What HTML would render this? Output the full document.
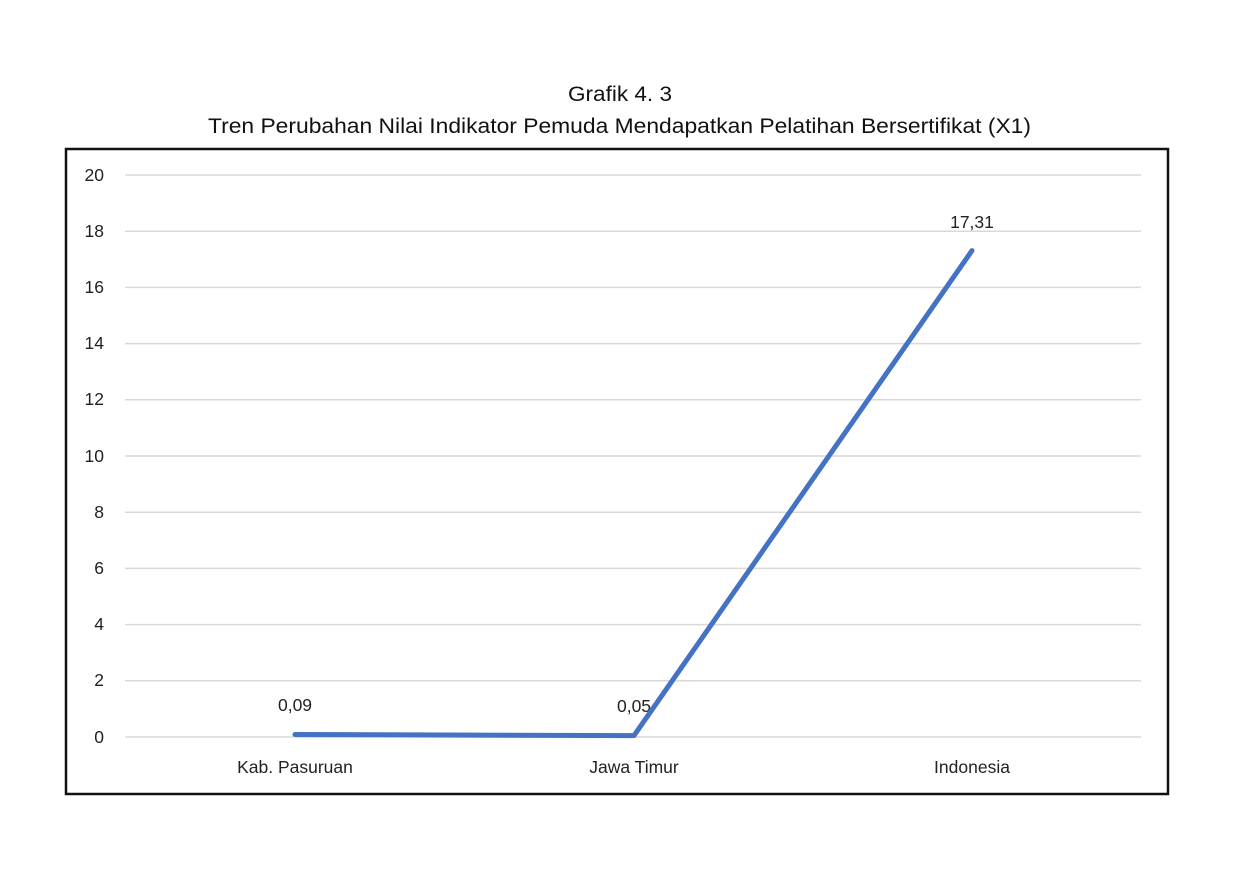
<!DOCTYPE html>
<html><head><meta charset="utf-8"><style>
html,body{margin:0;padding:0;background:#fff;}
svg{display:block;font-family:"Liberation Sans",sans-serif;}
</style></head><body>
<svg width="1240" height="880" viewBox="0 0 1240 880">
<rect width="1240" height="880" fill="#fff"/>
<text x="568" y="101" font-size="21" textLength="104" lengthAdjust="spacingAndGlyphs" fill="#111">Grafik 4. 3</text>
<text x="208" y="133" font-size="21" textLength="823" lengthAdjust="spacingAndGlyphs" fill="#111">Tren Perubahan Nilai Indikator Pemuda Mendapatkan Pelatihan Bersertifikat (X1)</text>
<rect x="66" y="149" width="1102" height="645" fill="none" stroke="#111" stroke-width="2.5"/>
<g stroke="#d9d9d9" stroke-width="1.5">
<line x1="125" x2="1141" y1="175" y2="175"/>
<line x1="125" x2="1141" y1="231.2" y2="231.2"/>
<line x1="125" x2="1141" y1="287.4" y2="287.4"/>
<line x1="125" x2="1141" y1="343.6" y2="343.6"/>
<line x1="125" x2="1141" y1="399.8" y2="399.8"/>
<line x1="125" x2="1141" y1="456" y2="456"/>
<line x1="125" x2="1141" y1="512.2" y2="512.2"/>
<line x1="125" x2="1141" y1="568.4" y2="568.4"/>
<line x1="125" x2="1141" y1="624.6" y2="624.6"/>
<line x1="125" x2="1141" y1="680.8" y2="680.8"/>
<line x1="125" x2="1141" y1="737" y2="737"/>
</g>
<g font-size="17.5" fill="#222" text-anchor="end">
<text x="104" y="181">20</text>
<text x="104" y="237">18</text>
<text x="104" y="293">16</text>
<text x="104" y="349">14</text>
<text x="104" y="405">12</text>
<text x="104" y="462">10</text>
<text x="104" y="518">8</text>
<text x="104" y="574">6</text>
<text x="104" y="630">4</text>
<text x="104" y="686">2</text>
<text x="104" y="743">0</text>
</g>
<g font-size="17.5" fill="#222" text-anchor="middle">
<text x="295" y="773">Kab. Pasuruan</text>
<text x="634" y="773">Jawa Timur</text>
<text x="972" y="773">Indonesia</text>
<text x="295" y="711">0,09</text>
<text x="634" y="712">0,05</text>
<text x="972" y="228">17,31</text>
</g>
<polyline points="295,734.5 634,735.6 972,250.6" fill="none" stroke="#4472c4" stroke-width="5" stroke-linecap="round" stroke-linejoin="round"/>
</svg>
</body></html>
